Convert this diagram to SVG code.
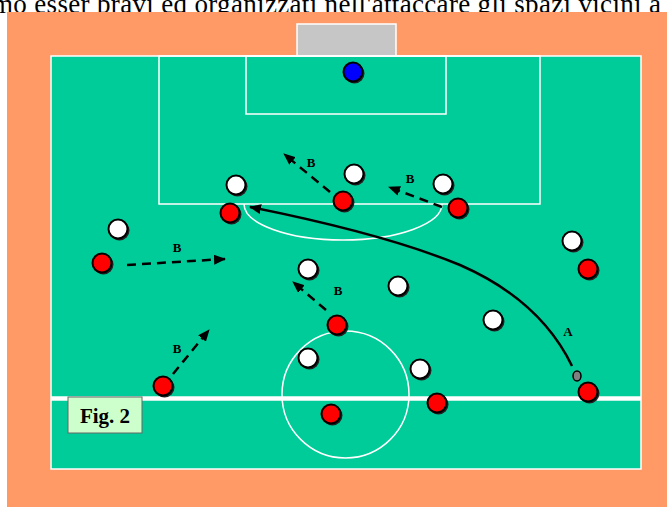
<svg xmlns="http://www.w3.org/2000/svg" width="667" height="507" viewBox="0 0 667 507">
<defs>
<style>
.line{fill:none;stroke:#fff;stroke-width:1.5}
.pl{stroke:#000;stroke-width:2}
.sh{fill:#222}
.w{fill:#fff}
.r{fill:#f00}
.arr{fill:none;stroke:#000;stroke-width:2.5;stroke-dasharray:9 6}
.lbl{font-family:"Liberation Serif",serif;font-weight:bold;font-size:13px;fill:#000}
</style>
<marker id="ah" viewBox="0 0 12 10" refX="11" refY="5" markerWidth="12" markerHeight="10" markerUnits="userSpaceOnUse" orient="auto">
<path d="M0,0 L12,5 L0,10 z" fill="#000"/>
</marker>
</defs>
<rect width="667" height="507" fill="#fff"/>
<text x="-8" y="12.5" textLength="669" lengthAdjust="spacing" font-family="Liberation Serif,serif" font-size="27" fill="#000">mo esser bravi ed organizzati nell'attaccare gli spazi vicini a</text>
<rect x="7" y="12" width="660" height="495" fill="#FF9966"/>
<g id="pitch">
<rect x="297" y="24" width="99" height="32" fill="#C6C6C6" stroke="#fff" stroke-width="1.5"/>
<rect x="51" y="56" width="590" height="413" fill="#00CC99" stroke="#fff" stroke-width="1.5"/>
<rect x="159" y="56" width="381" height="148" class="line"/>
<rect x="246" y="56" width="200" height="58" class="line"/>
<path d="M244,204 A99,36 0 0 0 442,204" class="line" stroke-width="2"/>
<line x1="51" y1="398.5" x2="641" y2="398.5" stroke="#fff" stroke-width="4.5"/>
<circle cx="345.5" cy="394.5" r="63.5" class="line" stroke-width="2"/>
</g>
<g id="connectors">
<path d="M572,366 Q540,300 460,265 Q385,234 250,207" fill="none" stroke="#000" stroke-width="2.5" marker-end="url(#ah)"/>
<path d="M127,265 L225,259" class="arr" marker-end="url(#ah)"/>
<path d="M330,192 L284,154" class="arr" marker-end="url(#ah)"/>
<path d="M442,207 L389,187" class="arr" marker-end="url(#ah)"/>
<path d="M326,310 L293,282" class="arr" marker-end="url(#ah)"/>
<path d="M173,374 L209,330" class="arr" marker-end="url(#ah)"/>
</g>
<g id="labels">
<text class="lbl" x="177" y="252" text-anchor="middle">B</text>
<text class="lbl" x="311" y="167" text-anchor="middle">B</text>
<text class="lbl" x="410" y="183" text-anchor="middle">B</text>
<text class="lbl" x="338" y="295" text-anchor="middle">B</text>
<text class="lbl" x="177" y="353" text-anchor="middle">B</text>
<text class="lbl" x="568" y="336" text-anchor="middle">A</text>
</g>
<g id="goalkeeper"><circle cx="354.5" cy="73.5" r="10" class="sh"/><circle cx="353" cy="72" r="9.5" fill="#00f" class="pl"/></g>
<g id="ball"><ellipse cx="577" cy="376" rx="4" ry="5" fill="#808080" stroke="#000" stroke-width="1.5"/></g>
<g id="defenders">
<g id="w1"><circle cx="237.5" cy="186.5" r="10" class="sh"/><circle cx="236" cy="185" r="9.5" class="w pl"/></g>
<g id="w2"><circle cx="355.5" cy="175.5" r="10" class="sh"/><circle cx="354" cy="174" r="9.5" class="w pl"/></g>
<g id="w3"><circle cx="444.5" cy="185.5" r="10" class="sh"/><circle cx="443" cy="184" r="9.5" class="w pl"/></g>
<g id="w4"><circle cx="119.5" cy="230.5" r="10" class="sh"/><circle cx="118" cy="229" r="9.5" class="w pl"/></g>
<g id="w5"><circle cx="573.5" cy="242.5" r="10" class="sh"/><circle cx="572" cy="241" r="9.5" class="w pl"/></g>
<g id="w6"><circle cx="309.5" cy="270.5" r="10" class="sh"/><circle cx="308" cy="269" r="9.5" class="w pl"/></g>
<g id="w7"><circle cx="399.5" cy="287.5" r="10" class="sh"/><circle cx="398" cy="286" r="9.5" class="w pl"/></g>
<g id="w8"><circle cx="494.5" cy="321.5" r="10" class="sh"/><circle cx="493" cy="320" r="9.5" class="w pl"/></g>
<g id="w9"><circle cx="309.5" cy="359.5" r="10" class="sh"/><circle cx="308" cy="358" r="9.5" class="w pl"/></g>
<g id="w10"><circle cx="421.5" cy="370.5" r="10" class="sh"/><circle cx="420" cy="369" r="9.5" class="w pl"/></g>
</g>
<g id="attackers">
<g id="r1"><circle cx="231.5" cy="214.5" r="10" class="sh"/><circle cx="230" cy="213" r="9.5" class="r pl"/></g>
<g id="r2"><circle cx="344.5" cy="202.5" r="10" class="sh"/><circle cx="343" cy="201" r="9.5" class="r pl"/></g>
<g id="r3"><circle cx="459.5" cy="209.5" r="10" class="sh"/><circle cx="458" cy="208" r="9.5" class="r pl"/></g>
<g id="r4"><circle cx="103.5" cy="264.5" r="10" class="sh"/><circle cx="102" cy="263" r="9.5" class="r pl"/></g>
<g id="r5"><circle cx="589.5" cy="270.5" r="10" class="sh"/><circle cx="588" cy="269" r="9.5" class="r pl"/></g>
<g id="r6"><circle cx="338.5" cy="326.5" r="10" class="sh"/><circle cx="337" cy="325" r="9.5" class="r pl"/></g>
<g id="r7"><circle cx="164.5" cy="387.5" r="10" class="sh"/><circle cx="163" cy="386" r="9.5" class="r pl"/></g>
<g id="r8"><circle cx="332.5" cy="415.5" r="10" class="sh"/><circle cx="331" cy="414" r="9.5" class="r pl"/></g>
<g id="r9"><circle cx="438.5" cy="404.5" r="10" class="sh"/><circle cx="437" cy="403" r="9.5" class="r pl"/></g>
<g id="r10"><circle cx="589.5" cy="393.5" r="10" class="sh"/><circle cx="588" cy="392" r="9.5" class="r pl"/></g>
</g>
<g id="fig-label">
<rect x="68" y="397" width="74" height="36" fill="#CCFFCC" stroke="#666" stroke-width="1"/>
<text x="105" y="423" text-anchor="middle" font-family="Liberation Serif,serif" font-weight="bold" font-size="21" fill="#000">Fig. 2</text>
</g>
</svg>
